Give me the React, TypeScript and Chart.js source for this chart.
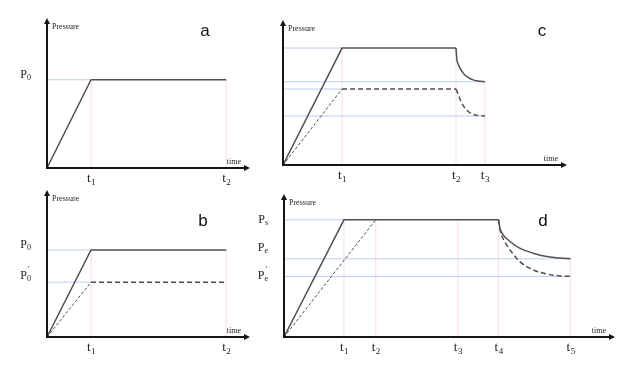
import React, { useEffect, useRef } from 'react';
import { Chart, registerables } from 'chart.js';
Chart.register(...registerables);

// ---------- Panel a ----------
const aTimes = [0, 1, 4.07];
const aPressure = [0, 1, 1];
const aTimeTicks = [1, 4.07];
const aTimeSubs = ['1', '2'];
const aPLabelValues = [1.06];
const aPLabelSubs = ['0'];
const aPLabelPrimes = [false];

// ---------- Panel b ----------
const bTimes = [0, 1, 4.07];
const bPressureSolid = [0, 1, 1];
const bPressureDashed = [0, 0.63, 0.63];
const bTimeTicks = [1, 4.07];
const bTimeSubs = ['1', '2'];
const bPLabelValues = [1.07, 0.71];
const bPLabelSubs = ['0', '0'];
const bPLabelPrimes = [false, true];

// ---------- Panel c ----------
const cTimes = [0, 1, 2.93];
const cPressureSolid = [0, 1, 1];
const cPressureDashed = [0, 0.65, 0.65];
const cDecayTimesSolid = [2.93, 2.945, 2.97, 3.0, 3.04, 3.08, 3.14, 3.2, 3.3, 3.42];
const cDecaySolid = [1.0, 0.9, 0.86, 0.826, 0.795, 0.769, 0.748, 0.732, 0.718, 0.712];
const cDecayTimesDashed = [2.93, 2.96, 3.0, 3.03, 3.07, 3.11, 3.16, 3.22, 3.3, 3.42];
const cDecayDashed = [0.65, 0.61, 0.56, 0.527, 0.495, 0.47, 0.449, 0.433, 0.424, 0.419];
const cTimeTicks = [1, 2.93, 3.42];
const cTimeSubs = ['1', '2', '3'];

// ---------- Panel d ----------
const dTimes = [0, 1, 3.58];
const dPressureSolid = [0, 1, 1];
const dRampDashedTimes = [0, 1.53];
const dRampDashed = [0, 1];
const dDecayTimesSolid = [3.58, 3.6, 3.655, 3.77, 3.93, 4.155, 4.38, 4.6, 4.78];
const dDecaySolid = [1.0, 0.93, 0.872, 0.815, 0.758, 0.715, 0.686, 0.673, 0.667];
const dDecayTimesDashed = [3.58, 3.61, 3.68, 3.79, 3.93, 4.155, 4.38, 4.6, 4.78];
const dDecayDashed = [1.0, 0.9, 0.815, 0.729, 0.644, 0.573, 0.538, 0.521, 0.517];
const dTimeTicks = [1, 1.53, 2.9, 3.58, 4.78];
const dTimeSubs = ['1', '2', '3', '4', '5'];
const dPLabelValues = [1.01, 0.77, 0.53];
const dPLabelSubs = ['s', 'e', 'e'];
const dPLabelPrimes = [false, false, true];

type Pt = { x: number; y: number };
const zip = (xs: number[], ys: number[]): Pt[] => xs.map((x, i) => ({ x, y: ys[i] }));

const LINE = '#4f4f4f';
const BLUE = 'rgba(185,202,232,0.95)';
const PINK = 'rgba(246,222,216,0.95)';

function solid(data: Pt[], curve = false) {
  return { data, borderColor: LINE, borderWidth: 1.5, pointRadius: 0, fill: false, order: 1,
    cubicInterpolationMode: curve ? 'monotone' : 'default', tension: 0, clip: false };
}
function dashLong(data: Pt[], curve = false) {
  return { ...solid(data, curve), borderDash: [5, 3] };
}
function dashFine(data: Pt[]) {
  return { ...solid(data), borderWidth: 1, borderDash: [3, 2] };
}
function hGuide(level: number, until: number) {
  return { data: [{ x: 0, y: level }, { x: until, y: level }], borderColor: BLUE, borderWidth: 1,
    pointRadius: 0, order: 5, clip: false };
}
function vGuide(t: number, upTo: number) {
  return { data: [{ x: t, y: 0 }, { x: t, y: upTo }], borderColor: PINK, borderWidth: 1,
    pointRadius: 0, order: 5, clip: false };
}

type PanelCfg = {
  left: number; top: number; width: number; height: number;
  padding: { left: number; right: number; top: number; bottom: number };
  xMax: number; yMax: number;
  datasets: any[];
  timeTicks: number[]; timeSubs: string[];
  pValues: number[]; pSubs: string[]; pPrimes: boolean[];
  letter: string; letterX: number; letterY: number;
};

const SERIF = '"Liberation Serif", "DejaVu Serif", serif';

const decorPlugin = (cfg: PanelCfg) => ({
  id: 'decor',
  afterDatasetsDraw(chart: any) {
    const ctx = chart.ctx as CanvasRenderingContext2D;
    const xs = chart.scales.x;
    const ys = chart.scales.y;
    const x0 = xs.getPixelForValue(0);
    const y0 = ys.getPixelForValue(0);
    const { right, top } = chart.chartArea;
    ctx.save();
    // axes
    ctx.strokeStyle = '#151515';
    ctx.fillStyle = '#151515';
    ctx.lineWidth = 2;
    ctx.beginPath();
    ctx.moveTo(x0, y0);
    ctx.lineTo(right - 4, y0);
    ctx.moveTo(x0, y0 + 1);
    ctx.lineTo(x0, top + 4);
    ctx.stroke();
    ctx.beginPath();
    ctx.moveTo(right, y0);
    ctx.lineTo(right - 6, y0 - 3);
    ctx.lineTo(right - 6, y0 + 3);
    ctx.closePath();
    ctx.fill();
    ctx.beginPath();
    ctx.moveTo(x0, top);
    ctx.lineTo(x0 - 3, top + 6);
    ctx.lineTo(x0 + 3, top + 6);
    ctx.closePath();
    ctx.fill();

    // axis titles
    ctx.fillStyle = '#222';
    ctx.font = `8px ${SERIF}`;
    ctx.textBaseline = 'middle';
    ctx.textAlign = 'left';
    ctx.fillText('Pressure', x0 + 5, top + 9);
    ctx.textAlign = 'right';
    ctx.fillText('time', right - 9, y0 - 6);

    // time tick labels
    ctx.textBaseline = 'alphabetic';
    ctx.textAlign = 'left';
    cfg.timeTicks.forEach((v, i) => {
      const px = xs.getPixelForValue(v);
      ctx.font = `13px ${SERIF}`;
      const wT = ctx.measureText('t').width;
      ctx.font = `9px ${SERIF}`;
      const wS = ctx.measureText(cfg.timeSubs[i]).width;
      const sx = px - (wT + wS) / 2;
      ctx.font = `13px ${SERIF}`;
      ctx.fillText('t', sx, y0 + 14);
      ctx.font = `9px ${SERIF}`;
      ctx.fillText(cfg.timeSubs[i], sx + wT + 0.5, y0 + 17);
    });

    // pressure labels
    cfg.pValues.forEach((v, i) => {
      const py = ys.getPixelForValue(v);
      ctx.font = `12px ${SERIF}`;
      const wP = ctx.measureText('P').width;
      ctx.font = `8px ${SERIF}`;
      const wS = ctx.measureText(cfg.pSubs[i]).width;
      const rx = x0 - 16;
      const sx = rx - wP - wS;
      ctx.font = `12px ${SERIF}`;
      ctx.fillText('P', sx, py + 4);
      ctx.font = `8px ${SERIF}`;
      ctx.fillText(cfg.pSubs[i], sx + wP, py + 6);
      if (cfg.pPrimes[i]) ctx.fillText("'", sx + wP + 1, py - 3);
    });

    // panel letter
    ctx.font = '17px "Liberation Sans", Arial, sans-serif';
    ctx.fillStyle = '#111';
    ctx.textAlign = 'center';
    ctx.textBaseline = 'middle';
    ctx.fillText(cfg.letter, cfg.letterX, cfg.letterY);
    ctx.restore();
  },
});

function Panel({ cfg }: { cfg: PanelCfg }) {
  const ref = useRef<HTMLCanvasElement>(null);
  useEffect(() => {
    if (!ref.current) return;
    const chart = new Chart(ref.current, {
      type: 'line',
      data: { datasets: cfg.datasets },
      options: {
        responsive: false,
        animation: false,
        events: [],
        layout: { padding: cfg.padding },
        plugins: { legend: { display: false }, tooltip: { enabled: false } },
        scales: {
          x: { type: 'linear', min: 0, max: cfg.xMax, display: false },
          y: { type: 'linear', min: 0, max: cfg.yMax, display: false },
        },
      } as any,
      plugins: [decorPlugin(cfg)],
    });
    return () => chart.destroy();
  }, []);
  return (
    <canvas
      ref={ref}
      width={cfg.width}
      height={cfg.height}
      style={{ position: 'absolute', left: cfg.left, top: cfg.top, width: cfg.width, height: cfg.height }}
    />
  );
}

const panelA: PanelCfg = {
  left: 0, top: 0, width: 260, height: 190,
  padding: { left: 47, right: 10, top: 18, bottom: 22 },
  xMax: 4.61, yMax: 1.7,
  datasets: [
    hGuide(aPressure[1], aTimes[1]),
    vGuide(aTimes[1], aPressure[1]),
    vGuide(aTimes[2], aPressure[2]),
    solid(zip(aTimes, aPressure)),
  ],
  timeTicks: aTimeTicks, timeSubs: aTimeSubs,
  pValues: aPLabelValues, pSubs: aPLabelSubs, pPrimes: aPLabelPrimes,
  letter: 'a', letterX: 205, letterY: 31,
};

const panelB: PanelCfg = {
  left: 0, top: 185, width: 260, height: 192,
  padding: { left: 47, right: 10, top: 5, bottom: 40 },
  xMax: 4.61, yMax: 1.69,
  datasets: [
    hGuide(bPressureSolid[1], bTimes[1]),
    hGuide(bPressureDashed[1], bTimes[1]),
    vGuide(bTimes[1], bPressureSolid[1]),
    vGuide(bTimes[2], bPressureSolid[2]),
    solid(zip(bTimes, bPressureSolid)),
    dashFine(zip(bTimes.slice(0, 2), bPressureDashed.slice(0, 2))),
    dashLong(zip(bTimes.slice(1), bPressureDashed.slice(1))),
  ],
  timeTicks: bTimeTicks, timeSubs: bTimeSubs,
  pValues: bPLabelValues, pSubs: bPLabelSubs, pPrimes: bPLabelPrimes,
  letter: 'b', letterX: 203, letterY: 36,
};

const cT3 = cDecayTimesSolid[cDecayTimesSolid.length - 1];
const cEndSolid = cDecaySolid[cDecaySolid.length - 1];
const cEndDashed = cDecayDashed[cDecayDashed.length - 1];
const panelC: PanelCfg = {
  left: 260, top: 0, width: 379, height: 190,
  padding: { left: 23, right: 72, top: 20, bottom: 25 },
  xMax: 4.81, yMax: 1.24,
  datasets: [
    hGuide(cPressureSolid[1], cTimes[1]),
    hGuide(cEndSolid, cT3),
    hGuide(cPressureDashed[1], cTimes[1]),
    hGuide(cEndDashed, cT3),
    vGuide(cTimes[1], cPressureSolid[1]),
    vGuide(cTimes[2], cPressureSolid[2]),
    vGuide(cT3, cEndSolid),
    solid(zip(cTimes, cPressureSolid)),
    solid(zip(cDecayTimesSolid, cDecaySolid), true),
    dashFine(zip(cTimes.slice(0, 2), cPressureDashed.slice(0, 2))),
    dashLong(zip(cTimes.slice(1), cPressureDashed.slice(1))),
    dashLong(zip(cDecayTimesDashed, cDecayDashed), true),
  ],
  timeTicks: cTimeTicks, timeSubs: cTimeSubs,
  pValues: [], pSubs: [], pPrimes: [],
  letter: 'c', letterX: 282, letterY: 31,
};

const dT5 = dDecayTimesSolid[dDecayTimesSolid.length - 1];
const dEndSolid = dDecaySolid[dDecaySolid.length - 1];
const dEndDashed = dDecayDashed[dDecayDashed.length - 1];
const panelD: PanelCfg = {
  left: 240, top: 185, width: 399, height: 192,
  padding: { left: 44, right: 24, top: 9, bottom: 40 },
  xMax: 5.52, yMax: 1.22,
  datasets: [
    hGuide(dPressureSolid[1], dTimes[1]),
    hGuide(dEndSolid, dT5),
    hGuide(dEndDashed, dT5),
    vGuide(dTimeTicks[0], dPressureSolid[1]),
    vGuide(dTimeTicks[1], dPressureSolid[1]),
    vGuide(dTimeTicks[2], dPressureSolid[1]),
    vGuide(dTimeTicks[3], dPressureSolid[1]),
    vGuide(dT5, dEndSolid),
    solid(zip(dTimes, dPressureSolid)),
    dashFine(zip(dRampDashedTimes, dRampDashed)),
    solid(zip(dDecayTimesSolid, dDecaySolid), true),
    dashLong(zip(dDecayTimesDashed, dDecayDashed), true),
  ],
  timeTicks: dTimeTicks, timeSubs: dTimeSubs,
  pValues: dPLabelValues, pSubs: dPLabelSubs, pPrimes: dPLabelPrimes,
  letter: 'd', letterX: 303, letterY: 36,
};

export default function App() {
  return (
    <div style={{ position: 'fixed', left: 0, top: 0, width: 639, height: 377, background: '#fff', overflow: 'hidden' }}>
      <Panel cfg={panelA} />
      <Panel cfg={panelB} />
      <Panel cfg={panelC} />
      <Panel cfg={panelD} />
    </div>
  );
}
